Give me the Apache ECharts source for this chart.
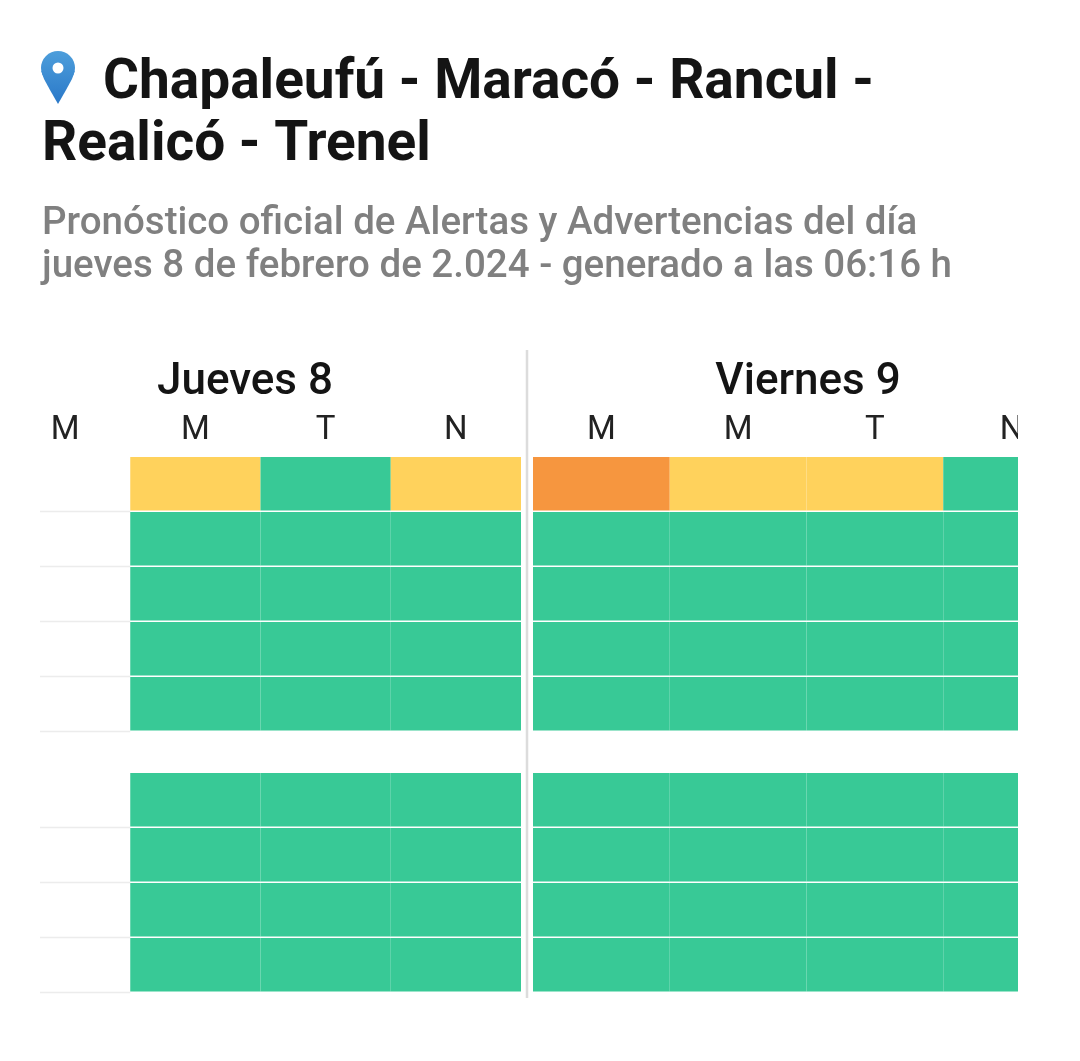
<!DOCTYPE html>
<html>
<head>
<meta charset="utf-8">
<title>Chapaleufú - Maracó - Rancul - Realicó - Trenel</title>
<script src="https://cdn.jsdelivr.net/npm/echarts@6/dist/echarts.min.js"></script>
<style>
  html, body { margin: 0; padding: 0; background: #fff; }
  #chart { width: 1080px; height: 1061px; }
</style>
</head>
<body>
<div id="chart"></div>
<script>
const FONT = 'Roboto'
const COLORS = ['#38C996', '#FFD25C', '#F6963F']
const NO_DATA = -1

const slots = ['M', 'M', 'T', 'N']
const rowsTop = ['f1', 'f2', 'f3', 'f4', 'f5']
const rowsBottom = ['f6', 'f7', 'f8', 'f9']

// niveles de alerta: 0 verde, 1 amarillo, 2 naranja, -1 sin dato
const juevesTop = [
  [NO_DATA, 1, 0, 1],
  [NO_DATA, 0, 0, 0],
  [NO_DATA, 0, 0, 0],
  [NO_DATA, 0, 0, 0],
  [NO_DATA, 0, 0, 0]
]
const juevesBottom = [
  [NO_DATA, 0, 0, 0],
  [NO_DATA, 0, 0, 0],
  [NO_DATA, 0, 0, 0],
  [NO_DATA, 0, 0, 0]
]
const viernesTop = [
  [2, 1, 1, 0],
  [0, 0, 0, 0],
  [0, 0, 0, 0],
  [0, 0, 0, 0],
  [0, 0, 0, 0]
]
const viernesBottom = [
  [0, 0, 0, 0],
  [0, 0, 0, 0],
  [0, 0, 0, 0],
  [0, 0, 0, 0]
]

const panels = [
  { left: -29, top: 457, height: 275, rows: rowsTop, levels: juevesTop, labels: true },
  { left: 533, top: 457, height: 275, rows: rowsTop, levels: viernesTop, labels: true },
  { left: -29, top: 773, height: 220, rows: rowsBottom, levels: juevesBottom, labels: false },
  { left: 533, top: 773, height: 220, rows: rowsBottom, levels: viernesBottom, labels: false }
]
const PANEL_WIDTH = 550

function renderCell (params, api) {
  const level = api.value(2)
  const start = api.coord([api.value(0), api.value(1)])
  const size = api.size([1, 1])
  const x = start[0] - size[0] / 2
  const y = start[1] - size[1] / 2
  if (level === NO_DATA) {
    return {
      type: 'line',
      shape: { x1: x, y1: y + size[1] - 0.5, x2: x + size[0], y2: y + size[1] - 0.5 },
      style: { stroke: '#ececec', lineWidth: 1.5 }
    }
  }
  return {
    type: 'rect',
    shape: { x: x, y: y, width: size[0], height: size[1] - 1.5 },
    style: { fill: COLORS[level] }
  }
}

const pinFill = {
  type: 'linear', global: true, x: 0, y: 51, x2: 0, y2: 104,
  colorStops: [{ offset: 0, color: '#4d9edb' }, { offset: 1, color: '#2a78c8' }]
}

const titleStyle = { fontFamily: FONT, fontWeight: 700, fontSize: 55, color: '#141414' }
const subStyle = { fontFamily: FONT, fontWeight: 500, fontSize: 38.5, color: '#808080' }
const dayStyle = { fontFamily: FONT, fontWeight: 500, fontSize: 44, color: '#141414' }

const option = {
  animation: false,
  backgroundColor: '#fff',
  title: [
    { text: 'Chapaleufú - Maracó - Rancul -', left: 98, top: 52, textStyle: titleStyle },
    { text: 'Realicó - Trenel', left: 37, top: 114, textStyle: titleStyle },
    { text: 'Pronóstico oficial de Alertas y Advertencias del día', left: 37, top: 200, textStyle: subStyle },
    { text: 'jueves 8 de febrero de 2.024 - generado a las 06:16 h', left: 37, top: 243, textStyle: subStyle },
    { text: 'Jueves 8', left: 240, top: 356, textAlign: 'center', textStyle: dayStyle },
    { text: 'Viernes 9', left: 803, top: 356, textAlign: 'center', textStyle: dayStyle }
  ],
  grid: panels.map(p => ({ left: p.left, top: p.top, width: PANEL_WIDTH, height: p.height })),
  xAxis: panels.map((p, i) => ({
    type: 'category',
    gridIndex: i,
    position: 'top',
    data: slots,
    axisLine: { show: false },
    axisTick: { show: false },
    splitLine: { show: false },
    axisLabel: { show: p.labels, interval: 0, hideOverlap: false, margin: 10, fontFamily: FONT, fontSize: 33, color: '#222' }
  })),
  yAxis: panels.map((p, i) => ({
    type: 'category',
    gridIndex: i,
    inverse: true,
    data: p.rows,
    show: false
  })),
  series: panels.map((p, i) => ({
    type: 'custom',
    xAxisIndex: i,
    yAxisIndex: i,
    renderItem: renderCell,
    encode: { x: 0, y: 1 },
    silent: true,
    data: p.levels.flatMap((row, r) => row.map((level, c) => [c, r, level]))
  })),
  graphic: [
    { type: 'rect', z: 50, silent: true, shape: { x: 0, y: 405, width: 40, height: 600 }, style: { fill: '#fff' } },
    { type: 'rect', z: 50, silent: true, shape: { x: 1018, y: 405, width: 62, height: 600 }, style: { fill: '#fff' } },
    { type: 'line', z: 51, silent: true, shape: { x1: 527, y1: 350, x2: 527, y2: 998 }, style: { stroke: '#dcdcdc', lineWidth: 2.5 } },
    // pin de ubicacion
    { type: 'circle', z: 51, silent: true, shape: { cx: 58, cy: 68, r: 17 }, style: { fill: pinFill } },
    {
      type: 'polygon',
      z: 51,
      silent: true,
      shape: { points: [[41.3, 71], [44, 79], [50, 90], [58, 104], [66, 90], [72, 79], [74.7, 71]] },
      style: { fill: pinFill }
    },
    { type: 'circle', z: 52, silent: true, shape: { cx: 58, cy: 68, r: 5.5 }, style: { fill: '#fff' } }
  ]
}

const chart = echarts.init(document.getElementById('chart'))
chart.setOption(option)
</script>
</body>
</html>
